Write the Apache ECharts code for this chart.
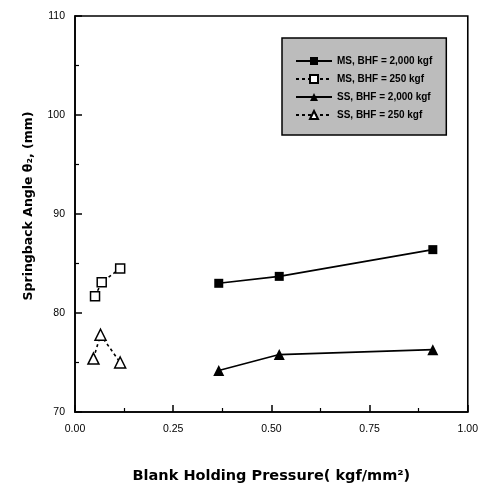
<!DOCTYPE html>
<html>
<head>
<meta charset="utf-8">
<script src="https://cdn.jsdelivr.net/npm/echarts@6/dist/echarts.min.js"></script>
<style>html,body{margin:0;padding:0;background:#fff}#c{width:481px;height:489px}</style>
</head>
<body>
<div id="c"></div>
<script>
var seriesNames = ['MS, BHF = 2,000 kgf', 'MS, BHF = 250 kgf', 'SS, BHF = 2,000 kgf', 'SS, BHF = 250 kgf'];
var msHighX = [0.366, 0.52, 0.911];
var msHighY = [83.0, 83.7, 86.4];
var msLowX = [0.051, 0.068, 0.115];
var msLowY = [81.7, 83.1, 84.5];
var ssHighX = [0.366, 0.52, 0.911];
var ssHighY = [74.2, 75.8, 76.3];
var ssLowX = [0.047, 0.065, 0.115];
var ssLowY = [75.4, 77.8, 75.0];
var xTicks = [0, 0.25, 0.5, 0.75, 1.0];
var yTicks = [70, 80, 90, 100, 110];

function pairs(xs, ys) { return xs.map(function (x, i) { return [x, ys[i]]; }); }

var chart = echarts.init(document.getElementById('c'), null, {renderer: 'canvas'});
var font = 'Liberation Sans, Arial, sans-serif';
var titleFont = 'DejaVu Sans, sans-serif';
function mk(name, xs, ys, sym, filled, dashed) {
  return {
    name: name, type: 'line', data: pairs(xs, ys),
    symbol: sym, symbolSize: sym === 'triangle' ? 11 : 9,
    lineStyle: {color: '#000', width: 1.6, type: dashed ? [3, 3] : 'solid'},
    itemStyle: {color: filled ? '#000' : '#fff', borderColor: '#000', borderWidth: filled ? 0 : 1.5},
    emphasis: {disabled: true}, animation: false, z: 3
  };
}
chart.setOption({
  animation: false,
  backgroundColor: '#fff',
  grid: {left: 75, right: 13, top: 16, bottom: 71, show: true, borderColor: '#000', borderWidth: 1.6},
  legend: {
    left: 282, top: 38, orient: 'vertical',
    data: seriesNames,
    backgroundColor: '#bcbcbc', borderColor: '#000', borderWidth: 1.5,
    padding: [18, 14, 15, 13], itemGap: 8, itemWidth: 36, itemHeight: 10,
    textStyle: {color: '#000', fontSize: 10, fontWeight: 'bold', fontFamily: font},
    selectedMode: false
  },
  xAxis: {
    type: 'value', min: 0, max: 1, interval: 0.25,
    name: 'Blank Holding Pressure( kgf/mm\u00B2)', nameLocation: 'middle', nameGap: 57,
    nameTextStyle: {color: '#000', fontSize: 14.5, fontWeight: 'bold', fontFamily: titleFont},
    axisLine: {show: true, lineStyle: {color: '#000', width: 1.6}},
    axisTick: {show: true, inside: true, length: 7, lineStyle: {color: '#000', width: 1.5}},
    minorTick: {show: true, splitNumber: 2, length: 4, lineStyle: {color: '#000', width: 1.2}},
    axisLabel: {color: '#000', fontSize: 10.5, fontFamily: font, margin: 12,
      formatter: function (v) { return v.toFixed(2); }},
    splitLine: {show: false}
  },
  yAxis: {
    type: 'value', min: 70, max: 110, interval: 10,
    name: 'Springback Angle \u03B8\u2082, (mm)', nameLocation: 'middle', nameGap: 40,
    nameTextStyle: {color: '#000', fontSize: 12.5, fontWeight: 'bold', fontFamily: titleFont,
      padding: [0, 0, 0, 16]},
    axisLine: {show: true, lineStyle: {color: '#000', width: 1.6}},
    axisTick: {show: true, inside: true, length: 7, lineStyle: {color: '#000', width: 1.5}},
    minorTick: {show: true, splitNumber: 2, length: 4, lineStyle: {color: '#000', width: 1.2}},
    axisLabel: {color: '#000', fontSize: 10.5, fontFamily: font, margin: 10},
    splitLine: {show: false}
  },
  series: [
    mk(seriesNames[0], msHighX, msHighY, 'rect', true, false),
    mk(seriesNames[1], msLowX, msLowY, 'rect', false, true),
    mk(seriesNames[2], ssHighX, ssHighY, 'triangle', true, false),
    mk(seriesNames[3], ssLowX, ssLowY, 'triangle', false, true)
  ]
});
</script>
</body>
</html>
